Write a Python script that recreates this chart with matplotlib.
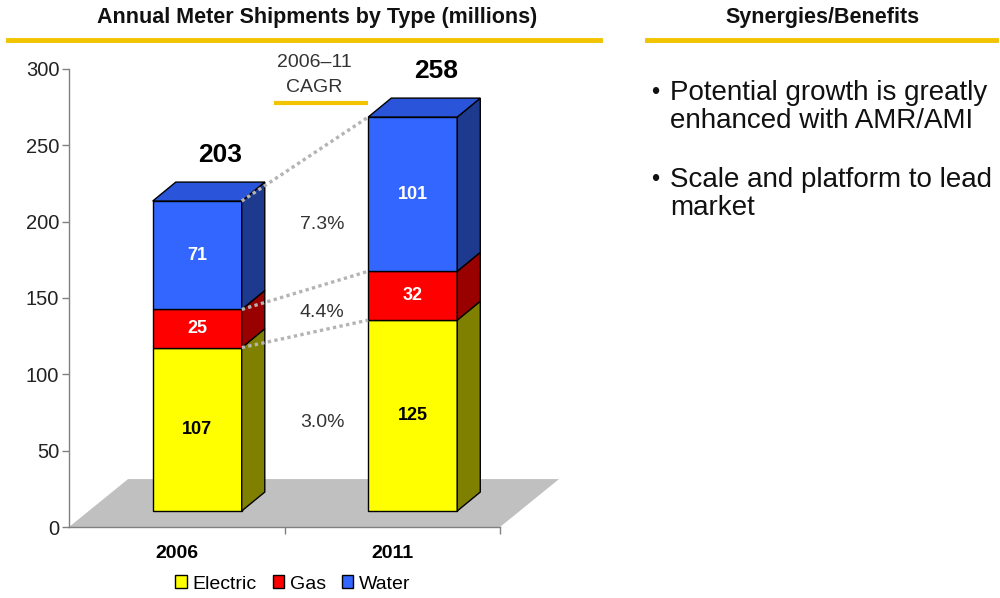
import numpy as np
import matplotlib.pyplot as plt
from matplotlib.patches import Polygon, Patch

plt.rcParams['font.family'] = ['Liberation Sans', 'DejaVu Sans']

# meter shipments (millions)
years = ['2006', '2011']
series = ['Electric', 'Gas', 'Water']
electric = [107, 125]
gas = [25, 32]
water = [71, 101]
totals = [203, 258]
cagr = ['3.0%', '4.4%', '7.3%']

front_cols = ['#FFFF00', '#FF0000', '#3366FF']
side_cols = ['#808000', '#990000', '#1E3A8E']
top_cols = ['#CCCC00', '#CC0000', '#2A55DA']
gold = '#F2C300'

bullets = [['Potential growth is greatly', 'enhanced with AMR/AMI'],
           ['Scale and platform to lead', 'market']]

fig = plt.figure(figsize=(10, 5.98), dpi=100)
ax = fig.add_axes([0.069, 0.1187, 0.431, 0.766])
ax.set_xlim(0, 2)
ax.set_ylim(0, 300)

# fake 3d: floor depth and bar depth in data units
fdx, fdy = 0.274, 31.4
bdx, bdy = 0.107, 12.4
x_off, y_off = 0.095, 10.5
bw = 0.413

floor = Polygon([(0, 0), (2, 0), (2 + fdx, fdy), (fdx, fdy)], closed=True,
                facecolor='#C0C0C0', edgecolor='none', zorder=1, clip_on=False)
ax.add_patch(floor)

vals = np.array([electric, gas, water])
cum = np.vstack([np.zeros(2), np.cumsum(vals, axis=0)])

for i in range(len(years)):
    x0 = i + 0.5 + x_off - bw / 2
    for s in range(len(series)):
        b = cum[s, i] + y_off
        t = cum[s + 1, i] + y_off
        front = Polygon([(x0, b), (x0 + bw, b), (x0 + bw, t), (x0, t)],
                        facecolor=front_cols[s], edgecolor='black', lw=1, zorder=3, clip_on=False)
        side = Polygon([(x0 + bw, b), (x0 + bw + bdx, b + bdy), (x0 + bw + bdx, t + bdy), (x0 + bw, t)],
                       facecolor=side_cols[s], edgecolor='black', lw=1, zorder=3, clip_on=False)
        ax.add_patch(front)
        ax.add_patch(side)
        col = 'black' if s == 0 else 'white'
        ax.text(x0 + bw / 2, (b + t) / 2, str(vals[s, i]), ha='center', va='center',
                fontsize=13, fontweight='bold', color=col, zorder=6)
    top = cum[-1, i] + y_off
    lid = Polygon([(x0, top), (x0 + bdx, top + bdy), (x0 + bw + bdx, top + bdy), (x0 + bw, top)],
                  facecolor=top_cols[-1], edgecolor='black', lw=1, zorder=3, clip_on=False)
    ax.add_patch(lid)
    ax.text(x0 + bw / 2 + bdx, totals[i] + y_off + bdy + 18, str(totals[i]), ha='center', va='center',
            fontsize=19, fontweight='bold', color='black', zorder=6, clip_on=False)

# dotted growth lines between the stacks
xa = 0.5 + x_off + bw / 2
xb = 1.5 + x_off - bw / 2
for s in range(len(series)):
    ax.plot([xa, xb], [cum[s + 1, 0] + y_off, cum[s + 1, 1] + y_off], color='#B4B4B4',
            lw=2.4, ls=(0, (1, 1)), zorder=5, clip_on=False)
    mid = ((cum[s, 0] + cum[s + 1, 0]) / 2 + (cum[s, 1] + cum[s + 1, 1]) / 2) / 2 + y_off
    ax.text(1.174, mid, cagr[s], ha='center', va='center', fontsize=14, color='#333333', zorder=6)

ax.text(1.137, 304, '2006–11', ha='center', va='center', fontsize=14, color='#333333', clip_on=False)
ax.text(1.137, 288, 'CAGR', ha='center', va='center', fontsize=14, color='#333333', clip_on=False)
ax.plot([0.951, 1.387], [278, 278], color=gold, lw=3, solid_capstyle='butt', clip_on=False)

# axes
for sp in ['top', 'right']:
    ax.spines[sp].set_visible(False)
for sp in ['left', 'bottom']:
    ax.spines[sp].set_color('#808080')
    ax.spines[sp].set_linewidth(1)
    ax.spines[sp].set_zorder(2)
ax.set_yticks(np.arange(0, 301, 50))
ax.tick_params(axis='y', direction='out', length=5, width=1, color='#808080',
               labelsize=14.5, labelcolor='#222222', pad=2)
ax.set_xticks([1, 2])
ax.set_xticklabels([])
ax.tick_params(axis='x', which='major', direction='out', length=5, width=1, color='#808080')
ax.set_xticks([0.5, 1.5], minor=True)
ax.set_xticklabels(years, minor=True, fontsize=14, fontweight='bold')
ax.tick_params(axis='x', which='minor', length=0, pad=13)
ax.set_facecolor('none')

handles = [Patch(facecolor=c, edgecolor='black', lw=1) for c in front_cols]
fig.legend(handles, series, loc='center', bbox_to_anchor=(0.293, 0.0234), ncol=3, frameon=False,
           fontsize=14, handlelength=0.6, handleheight=0.6, handletextpad=0.3, columnspacing=0.8,
           borderpad=0, borderaxespad=0)

# headers
fig.text(0.317, 1 - 18 / 598, 'Annual Meter Shipments by Type (millions)', ha='center', va='center',
         fontsize=15.5, fontweight='bold', color='#111111')
fig.text(0.822, 1 - 18 / 598, 'Synergies/Benefits', ha='center', va='center',
         fontsize=15.5, fontweight='bold', color='#111111')
fig.add_artist(plt.Line2D([0.008, 0.600], [1 - 40 / 598] * 2, color=gold, lw=3.5))
fig.add_artist(plt.Line2D([0.647, 0.996], [1 - 40 / 598] * 2, color=gold, lw=3.5))

yb = [93, 180]
for k, lines in enumerate(bullets):
    fig.text(0.655, 1 - yb[k] / 598, '•', ha='center', va='center', fontsize=17, color='#111111')
    for j, line in enumerate(lines):
        fig.text(0.670, 1 - (yb[k] + 28 * j) / 598, line, ha='left', va='center',
                 fontsize=20, color='#111111')

fig.savefig('out.png', dpi=100, facecolor='white')
